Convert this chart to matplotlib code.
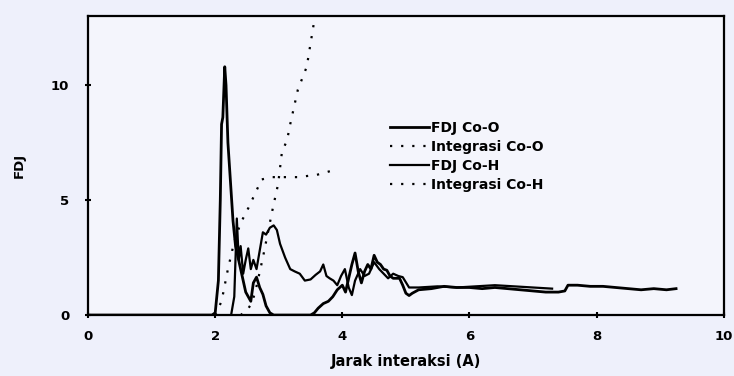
import matplotlib
matplotlib.use('Agg')
import matplotlib.pyplot as plt

# ── data ──────────────────────────────────────────────────────────────────

# FDJ Co-O (solid, heavy)
co_o_x = [0, 1.95, 2.0, 2.05, 2.08, 2.1, 2.12, 2.15, 2.17, 2.2, 2.24, 2.28,
          2.32, 2.36, 2.4, 2.44, 2.48, 2.52, 2.56, 2.6, 2.65, 2.7, 2.75, 2.8,
          2.86, 2.92, 3.0, 3.5, 3.56, 3.62, 3.7, 3.78, 3.85, 3.92, 4.0, 4.05,
          4.1, 4.15, 4.2, 4.25, 4.3, 4.35, 4.4, 4.45, 4.5, 4.55, 4.6, 4.65,
          4.7, 4.75, 4.8, 4.9, 4.95, 5.0, 5.05, 5.1, 5.2, 5.4, 5.6, 5.8, 6.0,
          6.2, 6.4, 6.6, 6.8, 7.0, 7.2, 7.4, 7.5, 7.55, 7.7, 7.9, 8.1, 8.3,
          8.5, 8.7, 8.9, 9.1, 9.25]
co_o_y = [0, 0, 0.1, 1.5, 5.0, 8.3, 8.6, 10.8, 10.0, 7.5, 5.8, 4.1,
          3.0, 2.5, 2.0, 1.5, 1.0, 0.8, 0.6, 1.4, 1.65, 1.2, 0.9, 0.4,
          0.1, 0, 0, 0, 0.1, 0.3, 0.5, 0.6, 0.8, 1.1, 1.3, 1.0,
          1.6, 2.2, 2.7, 1.9, 1.4, 1.9, 2.2, 2.0, 2.6, 2.3, 2.2, 2.0,
          1.95, 1.7, 1.6, 1.6, 1.3, 0.95, 0.85, 0.95, 1.1, 1.15, 1.25, 1.2, 1.2,
          1.15, 1.2, 1.15, 1.1, 1.05, 1.0, 1.0, 1.05, 1.3, 1.3, 1.25, 1.25, 1.2,
          1.15, 1.1, 1.15, 1.1, 1.15]

# FDJ Co-H (solid, thinner)
co_h_x = [0, 2.25, 2.3, 2.34, 2.37, 2.4, 2.44, 2.48, 2.52, 2.56, 2.6, 2.65,
          2.7, 2.75, 2.8, 2.86, 2.92, 2.97, 3.02, 3.1, 3.18, 3.25, 3.33, 3.41,
          3.5, 3.58, 3.65, 3.7, 3.75, 3.8, 3.86, 3.92, 3.98, 4.04, 4.1, 4.15,
          4.2, 4.28, 4.35, 4.42, 4.5, 4.58, 4.65, 4.72, 4.8, 4.88, 4.95, 5.05,
          5.2, 5.5, 5.8, 6.1, 6.4, 6.7, 7.0, 7.3]
co_h_y = [0, 0, 0.8, 4.2, 2.4, 3.0, 1.8, 2.4, 2.9, 2.0, 2.4, 2.0,
          2.8, 3.6, 3.5, 3.8, 3.9, 3.7, 3.1, 2.5, 2.0, 1.9, 1.8, 1.5,
          1.55, 1.75, 1.9, 2.2, 1.7, 1.6, 1.5, 1.3, 1.7, 2.0, 1.2, 0.87,
          1.5, 2.0, 1.7, 1.8, 2.3, 2.0, 1.8, 1.6, 1.8, 1.7, 1.65, 1.2,
          1.2, 1.25, 1.2, 1.25, 1.3, 1.25, 1.2, 1.15]

# Integrasi Co-O (dotted)
int_o_x = [2.0, 2.1, 2.2, 2.3, 2.4, 2.52, 2.63, 2.73, 2.9, 3.1, 3.3, 3.6, 3.86]
int_o_y = [0, 0.6, 2.0, 3.2, 4.0, 4.65, 5.3, 5.9, 6.0, 6.0, 6.0, 6.1, 6.3]

# Integrasi Co-H (dotted)
int_h_x = [2.4, 2.5, 2.57, 2.63, 2.75, 2.91, 2.99, 3.05, 3.13, 3.18, 3.3,
           3.44, 3.57, 3.65]
int_h_y = [0, 0.2, 0.5, 1.0, 2.5, 4.7, 5.7, 7.1, 7.6, 8.3, 9.8,
           10.8, 13.0, 14.2]

x_ticks = [0, 2, 4, 6, 8, 10]
y_ticks = [0, 5, 10]

# ── plot ──────────────────────────────────────────────────────────────────

plt.rcParams['font.family'] = ['DejaVu Sans']
plt.rcParams['font.weight'] = 'bold'

bg = '#eef0fb'
fig = plt.figure(figsize=(7.34, 3.76), dpi=100, facecolor=bg)
ax = fig.add_axes([0.12, 0.162, 0.866, 0.795], facecolor='#f4f5fc')

ax.plot(co_o_x, co_o_y, color='black', lw=2.0, label='FDJ Co-O')
ax.plot(int_o_x, int_o_y, color='black', lw=1.6, ls=(0, (1, 4)),
        label='Integrasi Co-O')
ax.plot(co_h_x, co_h_y, color='black', lw=1.6, label='FDJ Co-H')
ax.plot(int_h_x, int_h_y, color='black', lw=1.6, ls=(0, (1, 4)),
        label='Integrasi Co-H')

ax.set_xlim(0, 10)
ax.set_ylim(0, 13)
ax.set_xticks(x_ticks)
ax.set_yticks(y_ticks)
ax.tick_params(direction='inout', length=5, width=1.5, labelsize=9.5)
ax.tick_params(axis='y', pad=11)
ax.tick_params(axis='x', pad=8)
for s in ax.spines.values():
    s.set_linewidth(1.6)

ax.set_xlabel('Jarak interaksi (A)', fontsize=10.5, fontweight='bold',
              labelpad=8)
ax.set_ylabel('FDJ', fontsize=9.5, fontweight='bold', labelpad=18)

ax.legend(loc='upper left', bbox_to_anchor=(0.455, 0.69), frameon=False,
          fontsize=10, handlelength=2.8, handletextpad=0.2,
          labelspacing=0.35)

fig.savefig('out.png', dpi=100, facecolor=bg)
